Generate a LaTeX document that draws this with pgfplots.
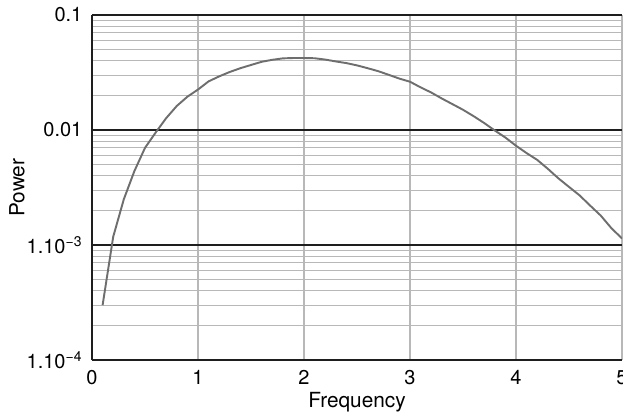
\documentclass[border=0pt]{standalone}
\usepackage{pgfplots}
\pgfplotsset{compat=1.18}
\usepackage{fontspec}
\setmainfont{TeX Gyre Heros}
\definecolor{curvegray}{HTML}{6E6E6E}
\definecolor{gridgray}{HTML}{B8B8B8}
\definecolor{majorline}{HTML}{1E1E1E}
\begin{document}
\begin{tikzpicture}
\begin{axis}[
  name=ax,
  scale only axis,
  width=331.25pt, height=215.6pt,
  ymode=log,
  xmin=0, xmax=5, ymin=1e-4, ymax=0.1,
  axis x line*=bottom, axis y line*=left,
  axis line style={-, majorline, line width=1.1pt},
  xtick={0,1,2,3,4,5},
  ytick={1e-4,1e-3,1e-2,1e-1},
  yticklabels={1.10\textsuperscript{−4}, 1.10\textsuperscript{−3}, 0.01, 0.1},
  major tick length=0pt, minor tick length=0pt,
  xmajorgrids, ymajorgrids, yminorgrids,
  x grid style={gridgray, line width=0.8pt},
  y grid style={majorline, line width=0.8pt},
  minor y grid style={gridgray, line width=0.8pt},
  tick label style={font=\fontsize{12.5}{14}\selectfont},
  /pgf/number format/assume math mode=true,
  xticklabel style={yshift=-3pt},
  yticklabel style={xshift=-2.5pt},
  xlabel={Frequency}, ylabel={Power},
  label style={font=\fontsize{13}{15}\selectfont},
  xlabel style={at={(axis description cs:0.5,-0.139)}, anchor=base},
  ylabel style={at={(axis description cs:-0.1415,0.5)}, anchor=center},
]
\addplot[curvegray, line width=1.2pt] coordinates {
(0.1,0.00030) (0.2,0.00118) (0.3,0.0025) (0.4,0.0044) (0.5,0.0070)
(0.6,0.0095) (0.7,0.0127) (0.8,0.0162) (0.9,0.0195) (1.0,0.0225)
(1.1,0.0265) (1.2,0.0293) (1.3,0.0320) (1.4,0.0345) (1.5,0.0368)
(1.6,0.0392) (1.7,0.0408) (1.8,0.0420) (1.9,0.0423) (2.0,0.0423)
(2.1,0.0421) (2.2,0.0410) (2.3,0.0395) (2.4,0.0382) (2.5,0.0365)
(2.6,0.0345) (2.7,0.0325) (2.8,0.0302) (2.9,0.0280) (3.0,0.0263)
(3.1,0.0235) (3.2,0.0212) (3.3,0.0188) (3.4,0.0168) (3.5,0.0150)
(3.6,0.0132) (3.7,0.0115) (3.8,0.0099) (3.9,0.0086) (4.0,0.0073)
(4.1,0.0063) (4.2,0.0055) (4.3,0.0046) (4.4,0.0038) (4.5,0.0032)
(4.6,0.0027) (4.7,0.0022) (4.8,0.0018) (4.9,0.0014) (5.0,0.00114)
};
\end{axis}
\pgfresetboundingbox
\path ([shift={(-57.5pt,-32.5pt)}]ax.south west) rectangle ([shift={(0.6pt,9.4pt)}]ax.north east);
\end{tikzpicture}
\end{document}
